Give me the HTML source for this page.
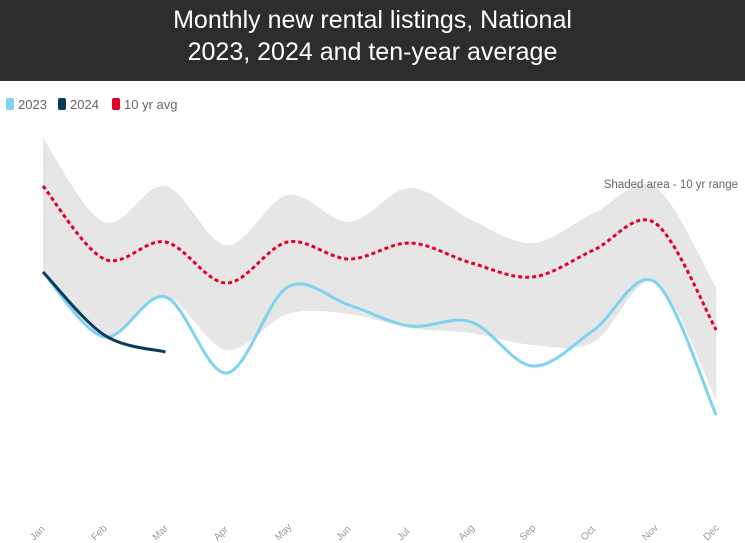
<!DOCTYPE html>
<html><head><meta charset="utf-8"><style>
body{margin:0;width:745px;height:543px;background:#fff;overflow:hidden;font-family:"Liberation Sans",sans-serif}
#hdr{position:absolute;left:0;top:0;width:745px;height:81px;background:#2d2d2f;color:#fff;text-align:center;font-size:25px;line-height:32px;padding-top:4px;box-sizing:border-box}
</style></head><body>
<div id="hdr">Monthly new rental listings, National<br>2023, 2024 and ten-year average</div>
<svg id="c" width="745" height="543" style="position:absolute;left:0;top:0"></svg>
<script>
const months=["Jan","Feb","Mar","Apr","May","Jun","Jul","Aug","Sep","Oct","Nov","Dec"];
const s2023=[228,163,203,127,213,195,174,178,134,170,218,85];
const s2024=[228,165,148];
const avg10=[314,241,258,217,258,241,257,237,223,250,277,170];
const rangeHi=[362,278,314,255,305,278,312,280,257,287,313,212];
const rangeLo=[228,163,203,150,186,186,172,167,155,158,218,100];
const svg=document.getElementById('c'),NS='http://www.w3.org/2000/svg';
const x=i=>43+i*61.2, y=v=>500-v;
function seg(p){let d='';for(let i=0;i<p.length-1;i++){const p0=p[i-1]||p[i],p1=p[i],p2=p[i+1],p3=p[i+2]||p2;
d+=` C${p1[0]+(p2[0]-p0[0])/6},${p1[1]+(p2[1]-p0[1])/6} ${p2[0]-(p3[0]-p1[0])/6},${p2[1]-(p3[1]-p1[1])/6} ${p2[0]},${p2[1]}`;}return d;}
function path(vals){const p=vals.map((v,i)=>[x(i),y(v)]);return `M${p[0][0]},${p[0][1]}`+seg(p);}
function mk(t,a){const e=document.createElementNS(NS,t);for(const k in a)e.setAttribute(k,a[k]);svg.appendChild(e);return e;}
const loPts=rangeLo.map((v,i)=>[x(i),y(v)]).reverse();
const band=mk('path',{d:path(rangeHi)+` L${loPts[0][0]},${loPts[0][1]}`+seg(loPts)+'Z',fill:'#e6e6e6'});


const a=mk('path',{d:path(avg10),fill:'none',stroke:'#e4002b','stroke-width':3,'stroke-dasharray':'4,3'});


const l3=mk('path',{d:path(s2023),fill:'none',stroke:'#7fd3f0','stroke-width':3});


const l4=mk('path',{d:path(s2024),fill:'none',stroke:'#0a3a5c','stroke-width':3});


const note=mk('text',{x:738,y:188,'text-anchor':'end','font-size':11.5,fill:'#666'});
note.textContent='Shaded area - 10 yr range';


months.forEach((m,i)=>{const tx=x(i)-9,ty=541;const t=mk('text',{x:tx,y:ty,'text-anchor':'start','font-size':10,fill:'#999',transform:`rotate(-45 ${tx} ${ty})`});
t.textContent=m;

});
const leg=[["2023","#7fd3f0",6],["2024","#0a3a5c",58],["10 yr avg","#e4002b",112]];
leg.forEach(([n,c,lx])=>{const g=mk('g',{});


const r=document.createElementNS(NS,'rect');r.setAttribute('x',lx);r.setAttribute('y',98);r.setAttribute('width',8);r.setAttribute('height',12);r.setAttribute('rx',2);r.setAttribute('fill',c);g.appendChild(r);
const t=document.createElementNS(NS,'text');t.setAttribute('x',lx+12);t.setAttribute('y',109);t.setAttribute('font-size',13);t.setAttribute('fill','#666');t.textContent=n;g.appendChild(t);});
</script>
</body></html>
